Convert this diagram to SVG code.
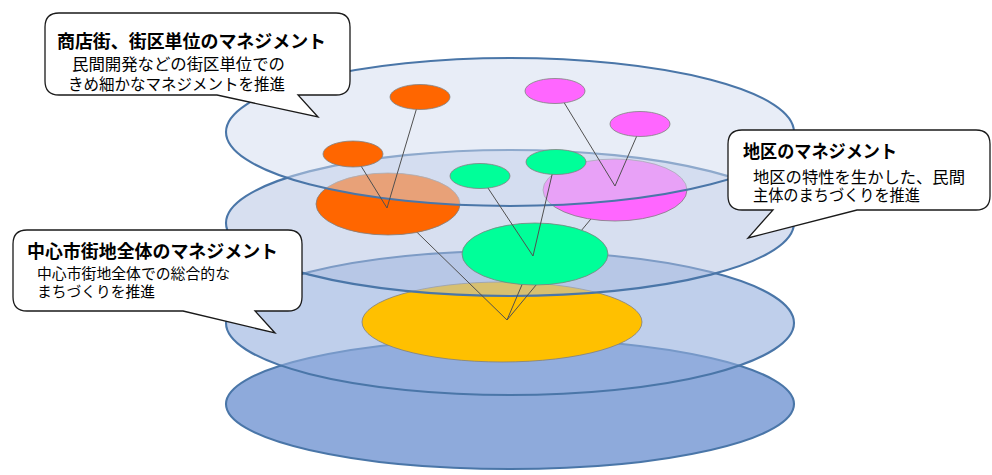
<svg xmlns="http://www.w3.org/2000/svg" width="992" height="475" viewBox="0 0 992 475">
  <style>
    .layer { stroke: #4a76a8; stroke-width: 2.1; }
    .area { stroke: #7f7f7f; stroke-width: 1; stroke-opacity: 0.8; }
    .link { stroke: #505050; stroke-width: 1; fill: none; }
    .bubble { fill: #ffffff; stroke: #1a1a1a; stroke-width: 1.3; stroke-linejoin: miter; }
    text { font-family: "Liberation Sans", "Noto Sans CJK JP", sans-serif; fill: #000; }
    .title { font-size: 18px; font-weight: bold; }
    .sub { font-size: 16px; }
    .sub3 { font-size: 15px; }
  </style>

  <!-- base layer -->
  <g id="layer-base">
    <ellipse class="layer" cx="510" cy="404" rx="284" ry="65" fill="#8eaadb"/>
  </g>

  <!-- city-centre layer -->
  <g id="layer-city">
    <ellipse class="layer" cx="510" cy="323" rx="284" ry="72" fill="#94afde" fill-opacity="0.6"/>
    <ellipse id="area-city" class="area" cx="502" cy="322" rx="140" ry="40" fill="#ffc000"/>
  </g>

  <!-- district layer -->
  <g id="layer-district">
    <ellipse class="layer" cx="510" cy="223" rx="284" ry="73" fill="#afbfe1" fill-opacity="0.5"/>
  </g>

  <!-- connectors from district areas down to the city-centre area -->
  <g id="links-lower">
    <line class="link" x1="388" y1="204" x2="507" y2="320"/>
    <line class="link" x1="535" y1="254" x2="507" y2="320"/>
    <line class="link" x1="615" y1="190" x2="507" y2="320"/>
  </g>

  <!-- district areas -->
  <g id="district-areas">
    <ellipse id="area-district-green" class="area" cx="535" cy="254" rx="73" ry="31" fill="#00ff99"/>
    <ellipse id="area-district-orange" class="area" cx="388" cy="204" rx="72" ry="31" fill="#ff6600"/>
    <ellipse id="area-district-pink" class="area" cx="615" cy="190" rx="72" ry="31" fill="#ff66ff"/>
  </g>

  <!-- street / block layer -->
  <g id="layer-street">
    <ellipse class="layer" cx="510" cy="132" rx="284" ry="74" fill="#d2dcf0" fill-opacity="0.5"/>
  </g>

  <!-- connectors from block areas down to district areas -->
  <g id="links-upper">
    <line class="link" x1="420" y1="97" x2="387" y2="208"/>
    <line class="link" x1="353" y1="153" x2="387" y2="208"/>
    <line class="link" x1="557" y1="91" x2="615" y2="186"/>
    <line class="link" x1="642" y1="124" x2="615" y2="186"/>
    <line class="link" x1="480" y1="176" x2="533" y2="256"/>
    <line class="link" x1="555" y1="162" x2="533" y2="256"/>
  </g>

  <!-- block areas -->
  <g id="block-areas">
    <ellipse id="block-orange-1" class="area" cx="420" cy="97" rx="30" ry="12.5" fill="#ff6600"/>
    <ellipse id="block-orange-2" class="area" cx="353" cy="154" rx="30" ry="13" fill="#ff6600"/>
    <ellipse id="block-pink-1" class="area" cx="555" cy="91" rx="30" ry="12.5" fill="#ff66ff"/>
    <ellipse id="block-pink-2" class="area" cx="640" cy="124" rx="30" ry="12.5" fill="#ff66ff"/>
    <ellipse id="block-green-1" class="area" cx="480" cy="176" rx="30" ry="12.5" fill="#00ff99"/>
    <ellipse id="block-green-2" class="area" cx="556" cy="162" rx="30" ry="12.5" fill="#00ff99"/>
  </g>

  <!-- callout: street / block management -->
  <g id="callout-street">
    <path class="bubble" d="M59 13 H336 Q350 13 350 27 V81 Q350 95 336 95 H298 L318 117 L217 95 H59 Q45 95 45 81 V27 Q45 13 59 13 Z"/>
    <text class="title" x="57" y="47.5" textLength="269" lengthAdjust="spacingAndGlyphs">商店街、街区単位のマネジメント</text>
    <text class="sub" x="72" y="70" textLength="213" lengthAdjust="spacingAndGlyphs">民間開発などの街区単位での</text>
    <text class="sub" x="68" y="90" textLength="217" lengthAdjust="spacingAndGlyphs">きめ細かなマネジメントを推進</text>
  </g>

  <!-- callout: district management -->
  <g id="callout-district">
    <path class="bubble" d="M742 130 H976 Q990 130 990 144 V196 Q990 210 976 210 H857 L748 238 L773 210 H742 Q728 210 728 196 V144 Q728 130 742 130 Z"/>
    <text class="title" x="743" y="157.5" textLength="154" lengthAdjust="spacingAndGlyphs">地区のマネジメント</text>
    <text class="sub" x="753" y="183" textLength="212" lengthAdjust="spacingAndGlyphs">地区の特性を生かした、民間</text>
    <text class="sub" x="753" y="201" textLength="167" lengthAdjust="spacingAndGlyphs">主体のまちづくりを推進</text>
  </g>

  <!-- callout: whole city-centre management -->
  <g id="callout-city">
    <path class="bubble" d="M27 230 H288 Q302 230 302 244 V297 Q302 311 288 311 H255 L275 333 L183 311 H27 Q13 311 13 297 V244 Q13 230 27 230 Z"/>
    <text class="title" x="27" y="257.5" textLength="251" lengthAdjust="spacingAndGlyphs">中心市街地全体のマネジメント</text>
    <text class="sub3" x="37" y="278.5" textLength="193" lengthAdjust="spacingAndGlyphs">中心市街地全体での総合的な</text>
    <text class="sub3" x="37" y="296.5" textLength="118" lengthAdjust="spacingAndGlyphs">まちづくりを推進</text>
  </g>
</svg>
